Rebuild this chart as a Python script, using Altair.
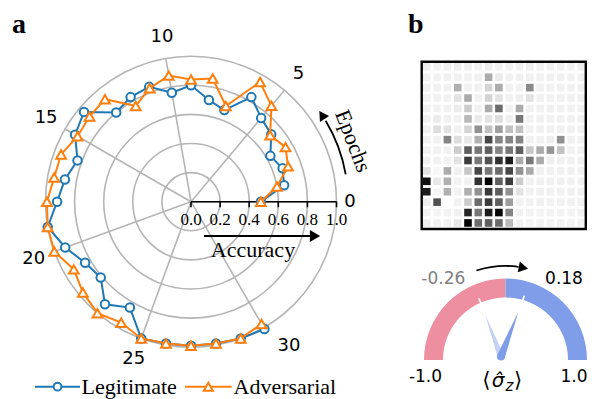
import math
import altair as alt
import pandas as pd

# ------------------------------------------------------------------ data
epochs = list(range(31))
legitimate = [0.48, 0.65, 0.67, 0.63, 0.72, 0.75, 0.83, 0.67, 0.71, 0.80,
              0.76, 0.84, 0.83, 0.80, 0.96, 0.92, 0.83, 0.88, 0.92, 1.00,
              0.92, 0.84, 0.81, 0.92, 0.84, 1.00, 0.99, 0.99, 0.99, 1.00, 1.01]
adversarial = [0.48, 0.60, 0.71, 0.75, 0.71, 0.86, 0.95, 0.70, 0.86, 0.84,
               0.88, 0.83, 0.76, 0.92, 0.91, 0.90, 0.95, 0.955, 0.99, 1.00,
               1.00, 0.93, 0.97, 1.00, 0.96, 1.00, 0.99, 0.99, 0.99, 1.00, 0.97]
series_names = ["Legitimate", "Adversarial"]
spoke_epochs = [0, 5, 10, 15, 20, 25, 30]
ring_levels = [0.2, 0.4, 0.6, 0.8, 1.0]
acc_ticks = [0.0, 0.2, 0.4, 0.6, 0.8, 1.0]
acc_labels = ["0.0", "0.2", "0.4", "0.6", "0.8", "1.0"]

heat = [
    [0.06, 0.05, 0.05, 0.06, 0.06, 0.05, 0.06, 0.05, 0.05, 0.05, 0.06, 0.05, 0.05, 0.05, 0.05, 0.06],
    [0.05, 0.05, 0.05, 0.05, 0.05, 0.05, 0.30, 0.07, 0.05, 0.05, 0.05, 0.05, 0.05, 0.05, 0.05, 0.05],
    [0.05, 0.05, 0.05, 0.28, 0.05, 0.05, 0.15, 0.30, 0.05, 0.05, 0.42, 0.05, 0.05, 0.05, 0.05, 0.05],
    [0.05, 0.05, 0.05, 0.10, 0.30, 0.05, 0.15, 0.10, 0.05, 0.06, 0.10, 0.05, 0.05, 0.05, 0.05, 0.05],
    [0.05, 0.05, 0.05, 0.07, 0.18, 0.05, 0.30, 0.55, 0.05, 0.30, 0.05, 0.05, 0.05, 0.05, 0.05, 0.05],
    [0.05, 0.07, 0.05, 0.05, 0.25, 0.07, 0.10, 0.12, 0.06, 0.50, 0.05, 0.05, 0.05, 0.05, 0.05, 0.05],
    [0.05, 0.12, 0.10, 0.05, 0.15, 0.40, 0.22, 0.35, 0.22, 0.22, 0.05, 0.05, 0.05, 0.05, 0.05, 0.05],
    [0.05, 0.05, 0.45, 0.12, 0.08, 0.28, 0.70, 0.45, 0.45, 0.45, 0.05, 0.05, 0.06, 0.40, 0.05, 0.05],
    [0.05, 0.05, 0.05, 0.18, 0.60, 0.50, 0.60, 0.45, 0.50, 0.60, 0.20, 0.30, 0.38, 0.22, 0.05, 0.05],
    [0.05, 0.05, 0.05, 0.10, 0.75, 0.50, 0.65, 0.80, 0.90, 0.30, 0.50, 0.30, 0.06, 0.05, 0.05, 0.05],
    [0.10, 0.03, 0.30, 0.05, 0.20, 0.70, 0.50, 0.55, 0.70, 0.40, 0.30, 0.05, 0.05, 0.05, 0.05, 0.05],
    [0.95, 0.08, 0.28, 0.04, 0.05, 0.80, 1.00, 0.60, 0.75, 0.18, 0.05, 0.05, 0.05, 0.05, 0.05, 0.05],
    [0.90, 0.03, 0.28, 0.05, 0.28, 0.40, 0.75, 0.60, 0.40, 0.10, 0.05, 0.05, 0.05, 0.05, 0.05, 0.05],
    [0.06, 0.65, 0.00, 0.05, 0.18, 0.55, 0.75, 0.60, 0.35, 0.05, 0.05, 0.05, 0.05, 0.05, 0.05, 0.05],
    [0.04, 0.04, 0.04, 0.05, 0.85, 0.50, 0.90, 1.00, 0.45, 0.05, 0.04, 0.04, 0.04, 0.04, 0.04, 0.05],
    [0.05, 0.05, 0.05, 0.08, 1.00, 0.55, 0.60, 0.55, 0.25, 0.05, 0.04, 0.04, 0.04, 0.04, 0.04, 0.05],
]

gauge_ends = [-1.0, 1.0]
gauge_before = -0.26
gauge_after = 0.18

# ------------------------------------------------------------------ layout
K = 145.5                      # pixels per accuracy unit
W, H = 579, 391
CXP, CYP = 191.0, 201.7        # polar centre (page px)
XMIN = -(CXP - 8) / K
XMAX = XMIN + W / K
YMAX = (CYP - 8) / K
YMIN = YMAX - H / K
DEG = math.pi / 180
STEP = 10 * DEG                # angular step per epoch


def ux(p):
    return XMIN + (p - 8) / K


def uy(p):
    return YMAX - (p - 8) / K


SX = alt.Scale(domain=[XMIN, XMAX], nice=False, zero=False)
SY = alt.Scale(domain=[YMIN, YMAX], nice=False, zero=False)


def fx(f):
    return alt.X(f, type="quantitative", scale=SX, axis=None)


def fy(f):
    return alt.Y(f, type="quantitative", scale=SY, axis=None)


def dxx(v):
    return alt.XDatum(v, scale=SX, axis=None)


def dyy(v):
    return alt.YDatum(v, scale=SY, axis=None)


def one():
    return alt.Data(values=[{"k": 0}])


BLUE = "#1f77b4"
ORANGE = "#ff7f0e"
GRID = "#b5b5b5"
SERIF = "Liberation Serif"
SANS = "DejaVu Sans"
PINK = "#ee8fa1"
GBLUE = "#7f9de8"
PALE = "#c4d1f4"

layers = []

# ---- polar grid
rings = pd.DataFrame({"r": ring_levels})
rings["rpx"] = rings["r"] * K
layers.append(
    alt.Chart(rings)
    .mark_arc(theta=0, theta2=2 * math.pi, fillOpacity=0, stroke=GRID, strokeWidth=1.6)
    .encode(x=dxx(0), y=dyy(0), radius=alt.Radius("rpx:Q", scale=None, stack=None))
)
spk = pd.DataFrame({"epoch": spoke_epochs})
spk["x0"] = 0.0
spk["y0"] = 0.0
spk["x1"] = [math.cos(e * STEP) for e in spoke_epochs]
spk["y1"] = [math.sin(e * STEP) for e in spoke_epochs]
layers.append(alt.Chart(spk).mark_rule(color=GRID, strokeWidth=1.6)
              .encode(x=fx("x0"), y=fy("y0"), x2="x1:Q", y2="y1:Q"))

# ---- radial accuracy axis
layers.append(alt.Chart(one()).mark_rule(color="black", strokeWidth=1.6)
              .encode(x=dxx(0), x2=alt.X2Datum(1.0), y=dyy(0)))
tick_df = pd.DataFrame({"v": acc_ticks, "lab": acc_labels})
layers.append(alt.Chart(tick_df).mark_rule(color="black", strokeWidth=1.6)
              .encode(x=fx("v"), y=dyy(0), y2=alt.Y2Datum(-5.5 / K)))
layers.append(alt.Chart(tick_df).mark_text(font=SERIF, fontSize=17, baseline="alphabetic", color="black")
              .encode(x=fx("v"), y=dyy(uy(224.5)), text="lab:N"))

# ---- data series
for name, vals, col, shape, size in [(series_names[0], legitimate, BLUE, "circle", 72),
                                     (series_names[1], adversarial, ORANGE, "triangle-up", 95)]:
    s = pd.DataFrame({"epoch": epochs, "acc": vals})
    s["x"] = [a * math.cos(e * STEP) for e, a in zip(epochs, vals)]
    s["y"] = [a * math.sin(e * STEP) for e, a in zip(epochs, vals)]
    b = alt.Chart(s)
    layers.append(b.mark_line(color=col, strokeWidth=2).encode(x=fx("x"), y=fy("y"), order="epoch:Q"))
    layers.append(b.mark_point(shape=shape, size=size, filled=True, fill="white", stroke=col,
                               strokeWidth=2, opacity=1)
                  .encode(x=fx("x"), y=fy("y")))

# ---- epoch labels
lab = pd.DataFrame({"t": [str(e) for e in spoke_epochs[1:-1]]})
lab["x"] = [1.15 * math.cos(e * STEP) for e in spoke_epochs[1:-1]]
lab["y"] = [1.15 * math.sin(e * STEP) for e in spoke_epochs[1:-1]]
layers.append(alt.Chart(lab).mark_text(font=SANS, fontSize=18, baseline="middle", color="black")
              .encode(x=fx("x"), y=fy("y"), text="t:N"))
layers.append(alt.Chart(one()).mark_text(font=SANS, fontSize=18, baseline="middle", text=str(spoke_epochs[0]))
              .encode(x=dxx(ux(350)), y=dyy(uy(202))))
layers.append(alt.Chart(one()).mark_text(font=SANS, fontSize=18, baseline="middle", text=str(spoke_epochs[-1]))
              .encode(x=dxx(ux(289)), y=dyy(uy(346))))

# ---- "Epochs" curved arrow
layers.append(alt.Chart(one()).mark_arc(color="black", theta=(90 - 31) * DEG, theta2=(90 - 10) * DEG,
                                        radius=158, radius2=156.2)
              .encode(x=dxx(0), y=dyy(0)))
ah = 33.5 * DEG
layers.append(alt.Chart(one()).mark_point(shape="triangle-up", size=120, filled=True, color="black", opacity=1,
                                          angle=270 + (90 - 33.5))
              .encode(x=dxx(157 / K * math.cos(ah)), y=dyy(157 / K * math.sin(ah))))
layers.append(alt.Chart(one()).mark_text(font=SERIF, fontSize=22, angle=69, text="Epochs",
                                         baseline="middle", align="center")
              .encode(x=dxx(ux(353)), y=dyy(uy(141))))

# ---- "Accuracy" arrow
layers.append(alt.Chart(one()).mark_rule(color="black", strokeWidth=2)
              .encode(x=dxx(ux(204)), x2=alt.X2Datum(ux(313)), y=dyy(uy(236))))
layers.append(alt.Chart(one()).mark_point(shape="triangle-up", size=140, filled=True, color="black", opacity=1,
                                          angle=90)
              .encode(x=dxx(ux(315)), y=dyy(uy(236))))
layers.append(alt.Chart(one()).mark_text(font=SERIF, fontSize=22, text="Accuracy", baseline="alphabetic")
              .encode(x=dxx(ux(253)), y=dyy(uy(256.5))))

# ---- panel letters
layers.append(alt.Chart(one()).mark_text(font=SERIF, fontSize=28, fontWeight="bold", text="a",
                                         align="left", baseline="alphabetic")
              .encode(x=dxx(ux(12)), y=dyy(uy(32.5))))
layers.append(alt.Chart(one()).mark_text(font=SERIF, fontSize=28, fontWeight="bold", text="b",
                                         align="left", baseline="alphabetic")
              .encode(x=dxx(ux(408)), y=dyy(uy(32.5))))

# ---- legend
LY = uy(386.7)
for name, col, shape, size, x0, x1, tx in [
        (series_names[0], BLUE, "circle", 60, 35, 80, 81.5),
        (series_names[1], ORANGE, "triangle-up", 85, 185, 231.7, 233.5)]:
    layers.append(alt.Chart(one()).mark_rule(color=col, strokeWidth=2)
                  .encode(x=dxx(ux(x0)), x2=alt.X2Datum(ux(x1)), y=dyy(LY)))
    layers.append(alt.Chart(one()).mark_point(shape=shape, size=size, filled=True, fill="white", stroke=col,
                                              strokeWidth=2, opacity=1)
                  .encode(x=dxx(ux((x0 + x1) / 2)), y=dyy(LY)))
    layers.append(alt.Chart(one()).mark_text(font=SERIF, fontSize=22, text=name, align="left",
                                             baseline="alphabetic")
                  .encode(x=dxx(ux(tx)), y=dyy(uy(393.5))))

# ---- heatmap
HX0, HY0 = ux(423.0), uy(63.0)
CSX, CSY, CW = 10.3 / K, 10.41 / K, 7.6 / K
rows = []
for r in range(16):
    for c in range(16):
        x = HX0 + c * CSX
        y = HY0 - r * CSY
        rows.append({"row": r, "col": c, "v": heat[r][c], "x": x, "x2": x + CW, "y": y, "y2": y - CW})
cells = pd.DataFrame(rows)
layers.append(
    alt.Chart(cells).mark_rect()
    .encode(x=fx("x"), x2="x2:Q", y=fy("y"), y2="y2:Q",
            color=alt.Color("v:Q", scale=alt.Scale(domain=[0, 1], range=["#ffffff", "#000000"]), legend=None))
)
layers.append(alt.Chart(one()).mark_rect(fillOpacity=0, stroke="black", strokeWidth=2.4)
              .encode(x=dxx(ux(421.7)), x2=alt.X2Datum(ux(585.8)), y=dyy(uy(61.7)), y2=alt.Y2Datum(uy(229))))

# ---- gauge
GX, GY = 505.5, 360.0
R_OUT, R_IN = 81.5, 62.5
GXu, GYu = ux(GX), uy(GY)
seg = pd.DataFrame({"lo": [gauge_ends[0], 0.0], "hi": [0.0, gauge_ends[1]], "side": ["neg", "pos"]})
seg["t1"] = seg["lo"] * math.pi / 2 + 2 * math.pi
seg["t2"] = seg["hi"] * math.pi / 2 + 2 * math.pi
layers.append(
    alt.Chart(seg)
    .mark_arc(radius=R_OUT, radius2=R_IN)
    .encode(x=dxx(GXu), y=dyy(GYu),
            theta=alt.Theta("t1:Q", scale=None, stack=None), theta2="t2:Q",
            color=alt.Color("side:N", scale=alt.Scale(domain=["neg", "pos"], range=[PINK, GBLUE]), legend=None))
)


def gauge_angle(v):
    return (90 - v * 90) * DEG


mk = pd.DataFrame({"v": [gauge_before, gauge_after]})
mk["x1"] = [GXu + (R_IN - 1.5) / K * math.cos(gauge_angle(v)) for v in mk["v"]]
mk["y1"] = [GYu + (R_IN - 1.5) / K * math.sin(gauge_angle(v)) for v in mk["v"]]
mk["x2"] = [GXu + (R_IN + 4.5) / K * math.cos(gauge_angle(v)) for v in mk["v"]]
mk["y2"] = [GYu + (R_IN + 4.5) / K * math.sin(gauge_angle(v)) for v in mk["v"]]
layers.append(alt.Chart(mk).mark_rule(color="white", strokeWidth=1.8)
              .encode(x=fx("x1"), y=fy("y1"), x2="x2:Q", y2="y2:Q"))

# needles: thin triangles from the pivot toward each value's tick (drawn as areas)
PXu, PYu = ux(501.0), uy(356.5)
for v, col, L, wb in [(gauge_before, PALE, 45.0, 6.5), (gauge_after, GBLUE, 48.0, 8.0)]:
    a = gauge_angle(v)
    tx = GXu + R_IN / K * math.cos(a) - PXu
    ty = GYu + R_IN / K * math.sin(a) - PYu
    n = math.hypot(tx, ty)
    ex, ey = tx / n, ty / n
    px_, py_ = -ey, ex
    hw = wb / 2 / K
    verts = [(PXu + px_ * hw, PYu + py_ * hw), (PXu - px_ * hw, PYu - py_ * hw),
             (PXu + ex * L / K, PYu + ey * L / K)]
    verts.sort()
    (xa, ya), (xb, yb), (xc, yc) = verts
    yac = ya + (yc - ya) * (xb - xa) / (xc - xa)
    tri = pd.DataFrame({"x": [xa, xb, xc], "y": [ya, yb, yc], "y2": [ya, yac, yc]})
    layers.append(alt.Chart(tri).mark_area(color=col, opacity=1, interpolate="linear")
                  .encode(x=fx("x"), y=fy("y"), y2="y2:Q"))
layers.append(alt.Chart(one()).mark_point(shape="circle", size=64, filled=True, color=GBLUE, opacity=1)
              .encode(x=dxx(PXu), y=dyy(PYu)))

# gauge arrow
layers.append(alt.Chart(one()).mark_arc(color="black", theta=(360 - 18) * DEG, theta2=(360 + 8) * DEG,
                                        radius=95, radius2=93.2)
              .encode(x=dxx(GXu), y=dyy(GYu)))
th = 11.0 * DEG
layers.append(alt.Chart(one()).mark_point(shape="triangle-up", size=120, filled=True, color="black", opacity=1,
                                          angle=90 + 11.0)
              .encode(x=dxx(GXu + 94 / K * math.sin(th)), y=dyy(GYu + 94 / K * math.cos(th))))

# gauge labels
for txt, col, xc, yb in [(f"{gauge_before:.2f}", "#808080", 443.3, 283.5),
                         (f"{gauge_after:.2f}", "black", 564.0, 283.5),
                         (f"{gauge_ends[0]:.1f}", "black", 425.5, 381.5),
                         (f"{gauge_ends[1]:.1f}", "black", 574.0, 381.5)]:
    layers.append(alt.Chart(one()).mark_text(font=SANS, fontSize=17, text=txt, color=col, baseline="alphabetic")
                  .encode(x=dxx(ux(xc)), y=dyy(uy(yb))))
layers.append(alt.Chart(one()).mark_text(font=SANS, fontSize=21, text="\u27e8", baseline="alphabetic", align="right")
              .encode(x=dxx(ux(490.5)), y=dyy(uy(387))))
layers.append(alt.Chart(one()).mark_text(font=SANS, fontSize=20, fontStyle="italic", text="\u03c3\u0302",
                                         baseline="alphabetic", align="center")
              .encode(x=dxx(ux(498)), y=dyy(uy(387))))
layers.append(alt.Chart(one()).mark_text(font=SANS, fontSize=15, fontStyle="italic", text="z",
                                         baseline="alphabetic", align="left")
              .encode(x=dxx(ux(505.5)), y=dyy(uy(391))))
layers.append(alt.Chart(one()).mark_text(font=SANS, fontSize=21, text="\u27e9", baseline="alphabetic", align="left")
              .encode(x=dxx(ux(514)), y=dyy(uy(387))))

chart = (
    alt.layer(*layers)
    .resolve_scale(color="independent")
    .properties(width=W, height=H, padding=0, autosize=alt.AutoSizeParams(type="none"))
    .configure_view(stroke=None)
)
chart.save("out.html", embed_options={"renderer": "svg", "actions": False})
